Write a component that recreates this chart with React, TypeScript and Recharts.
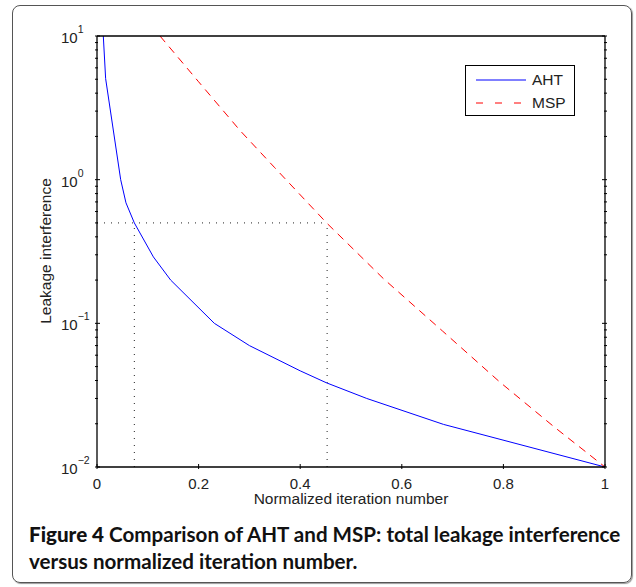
import React from 'react';
import { LineChart, Line, XAxis, YAxis, ReferenceLine, Legend } from 'recharts';

// AHT curve (solid blue)
const ahtX = [0.0124, 0.017, 0.0466, 0.057, 0.0735, 0.111, 0.145, 0.231, 0.3, 0.4, 0.452, 0.531, 0.682, 1];
const ahtY = [10, 5.05, 1.0, 0.69, 0.5, 0.29, 0.2, 0.1, 0.07, 0.0467, 0.0385, 0.03, 0.0198, 0.01];

// MSP curve (dashed red)
const mspX = [0.124, 0.2, 0.2815, 0.35, 0.452, 0.5636, 0.68, 0.793, 0.9, 1];
const mspY = [10, 4.8, 2.2, 1.21, 0.5, 0.205, 0.0885, 0.039, 0.019, 0.01];

// dotted guide at leakage 0.5
const guideLevel = 0.5;
const guideX = [0.0735, 0.453];

const xTicks = [0, 0.2, 0.4, 0.6, 0.8, 1];
const yMajor = [0.01, 0.1, 1, 10];
const yTicks = [
  0.01, 0.02, 0.03, 0.04, 0.05, 0.06, 0.07, 0.08, 0.09,
  0.1, 0.2, 0.3, 0.4, 0.5, 0.6, 0.7, 0.8, 0.9,
  1, 2, 3, 4, 5, 6, 7, 8, 9, 10,
];

const ahtData = ahtX.map((x, i) => ({ x, v: ahtY[i] }));
const mspData = mspX.map((x, i) => ({ x, v: mspY[i] }));

const FONT = '"Liberation Sans", Arial, Helvetica, sans-serif';
const TXT = '#222';
const AXIS = { stroke: '#000', strokeWidth: 1.3 };

const isMajor = (v: number) => yMajor.some((m) => Math.abs(m - v) < 1e-9);
const expLabel = (v: number) => {
  const e = Math.round(Math.log10(v));
  return e < 0 ? '\u2212' + Math.abs(e) : String(e);
};

const BottomTick = (props: any) => {
  const { x, y, payload } = props;
  return (
    <g>
      <line x1={x} y1={y} x2={x} y2={y - 5} stroke="#000" />
      <text x={x} y={y + 19.5} textAnchor="middle" fontSize={15} fontFamily={FONT} fill={TXT}>
        {String(payload.value)}
      </text>
    </g>
  );
};

const TopTick = (props: any) => {
  const { x, y } = props;
  return <line x1={x} y1={y} x2={x} y2={y + 5} stroke="#000" />;
};

const LeftTick = (props: any) => {
  const { x, y, payload } = props;
  const major = isMajor(payload.value);
  return (
    <g>
      <line x1={x} y1={y} x2={x + (major ? 5 : 3)} y2={y} stroke="#000" />
      {major && (
        <text x={x - 34} y={y + 7} textAnchor="start" fontSize={15} fontFamily={FONT} fill={TXT}>
          10
          <tspan dy={-10} fontSize={10.5}>
            {expLabel(payload.value)}
          </tspan>
        </text>
      )}
    </g>
  );
};

const RightTick = (props: any) => {
  const { x, y, payload } = props;
  const major = isMajor(payload.value);
  return <line x1={x} y1={y} x2={x - (major ? 5 : 3)} y2={y} stroke="#000" />;
};

const LegendBox = (props: any) => {
  const items = (props.payload || []).filter((p: any) => p.type !== 'none');
  return (
    <div
      style={{
        position: 'relative',
        width: 110,
        height: 51,
        boxSizing: 'border-box',
        border: '1px solid #000',
        background: '#fff',
        fontFamily: FONT,
        fontSize: 15.5,
        color: TXT,
      }}
    >
      {items.map((p: any, i: number) => (
        <div key={p.value} style={{ position: 'absolute', left: 0, top: 4 + i * 23, height: 20, display: 'flex', alignItems: 'center' }}>
          <svg width={60} height={20} style={{ display: 'block' }}>
            <line
              x1={10}
              y1={10}
              x2={60}
              y2={10}
              stroke={p.color}
              strokeWidth={1}
              strokeDasharray={p.payload?.strokeDasharray ? '7 12' : undefined}
            />
          </svg>
          <span style={{ marginLeft: 6 }}>{p.value}</span>
        </div>
      ))}
    </div>
  );
};

export default function App() {
  return (
    <div style={{ position: 'absolute', left: 0, top: 0, width: 636, height: 587, background: '#fff' }}>
      <div
        style={{
          position: 'absolute',
          left: 12,
          top: 5,
          width: 620,
          height: 578,
          boxSizing: 'border-box',
          border: '1px solid #555',
          borderRadius: 8,
          boxShadow: '1px 1px 1px #999',
        }}
      />
      <div style={{ position: 'absolute', left: 0, top: 0 }}>
        <LineChart width={636} height={587} margin={{ top: 35, right: 30, bottom: 119, left: 96 }}>
          <XAxis
            dataKey="x"
            type="number"
            domain={[0, 1]}
            ticks={xTicks}
            interval={0}
            tick={BottomTick}
            tickLine={false}
            tickSize={0}
            height={1}
            axisLine={AXIS}
            allowDataOverflow
          />
          <XAxis
            xAxisId="top"
            orientation="top"
            type="number"
            domain={[0, 1]}
            ticks={xTicks}
            interval={0}
            tick={TopTick}
            tickLine={false}
            tickSize={0}
            height={1}
            axisLine={AXIS}
            allowDataOverflow
          />
          <YAxis
            scale="log"
            type="number"
            domain={[0.01, 10]}
            ticks={yTicks}
            interval={0}
            tick={LeftTick}
            tickLine={false}
            tickSize={0}
            width={1}
            axisLine={AXIS}
            allowDataOverflow
          />
          <YAxis
            yAxisId="right"
            orientation="right"
            scale="log"
            type="number"
            domain={[0.01, 10]}
            ticks={yTicks}
            interval={0}
            tick={RightTick}
            tickLine={false}
            tickSize={0}
            width={1}
            axisLine={AXIS}
            allowDataOverflow
          />
          <ReferenceLine
            segment={[
              { x: 0, y: guideLevel },
              { x: guideX[1], y: guideLevel },
            ]}
            stroke="#222"
            strokeDasharray="1 6"
          />
          {guideX.map((gx) => (
            <ReferenceLine
              key={gx}
              segment={[
                { x: gx, y: 0.01 },
                { x: gx, y: guideLevel },
              ]}
              stroke="#222"
              strokeDasharray="1 6"
            />
          ))}
          <Line
            data={ahtData}
            dataKey="v"
            name="AHT"
            type="linear"
            stroke="#0000ff"
            strokeWidth={1}
            dot={false}
            isAnimationActive={false}
          />
          <Line
            data={mspData}
            dataKey="v"
            name="MSP"
            type="linear"
            stroke="#ff0000"
            strokeWidth={1}
            strokeDasharray="8 6"
            dot={false}
            isAnimationActive={false}
          />
          <Legend
            layout="vertical"
            align="center"
            verticalAlign="middle"
            content={LegendBox}
            wrapperStyle={{ position: 'absolute', left: 465, top: 65, width: 110, height: 51 }}
          />
          <text x={351} y={504} textAnchor="middle" fontSize={15.5} fontFamily={FONT} fill={TXT}>
            Normalized iteration number
          </text>
          <text
            x={51}
            y={251}
            textAnchor="middle"
            fontSize={15.5}
            fontFamily={FONT}
            fill={TXT}
            transform="rotate(-90 51 251)"
          >
            Leakage interference
          </text>
        </LineChart>
      </div>
      <div
        style={{
          position: 'absolute',
          left: 29,
          top: 521,
          fontFamily: 'Lato, "Noto Sans", sans-serif',
          fontWeight: 700,
          fontSize: 20.6,
          lineHeight: '27px',
          color: '#111',
          whiteSpace: 'nowrap',
        }}
      >
        <span style={{ fontWeight: 900 }}>Figure 4</span> Comparison of AHT and MSP: total leakage interference
        <br />
        versus normalized iteration number.
      </div>
    </div>
  );
}
